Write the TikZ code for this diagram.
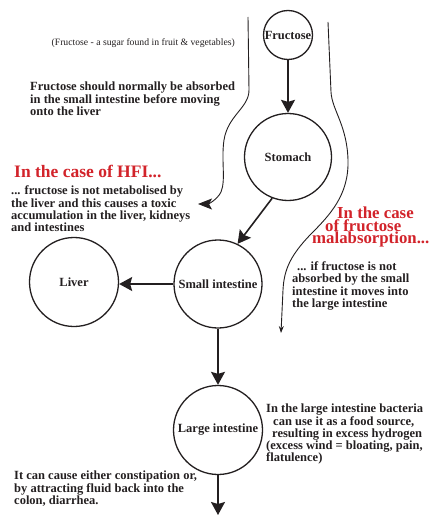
\documentclass[tikz,border=0pt]{standalone}
\usepackage{fontspec}
\setmainfont{Liberation Serif}
\usetikzlibrary{arrows.meta}
\definecolor{ink}{RGB}{35,31,32}
\definecolor{redhead}{RGB}{210,35,42}
\begin{document}
\begin{tikzpicture}[x=1pt,y=-1pt,
  organ/.style={circle,draw=ink,line width=1.3pt,inner sep=0pt,font=\fontsize{12.5}{12.5}\selectfont\bfseries,text=ink},
  flow/.style={draw=ink,line width=1.6pt,-{Stealth[length=13pt,width=14pt,inset=2pt]}},
  thinpath/.style={draw=ink,line width=0.9pt},
  body/.style={anchor=base west,inner sep=0pt,font=\fontsize{12.5}{12.5}\selectfont\bfseries,text=ink},
  headline/.style={anchor=base west,inner sep=0pt,font=\fontsize{17.5}{17.5}\selectfont\bfseries,text=redhead},
  redstack/.style={anchor=base west,inner sep=0pt,align=left,font=\fontsize{16.8}{12.5}\selectfont\bfseries,text=redhead},
  notetext/.style={anchor=base east,inner sep=0pt,font=\fontsize{9.7}{9.7}\selectfont,text=ink}]
\useasboundingbox (0,0) rectangle (434,516);

% organs
\node[organ,minimum size=49pt] (fructose) at (288,35) {Fructose};
\node[organ,minimum size=87pt] (stomach) at (288,157) {Stomach};
\node[organ,minimum size=88pt] (small) at (218,284) {Small intestine};
\node[organ,minimum size=89pt] (liver) at (74,282) {Liver};
\node[organ,minimum size=89pt] (large) at (218,430) {Large intestine};
\coordinate (out) at (218,515);

% main flow
\draw[flow] (fructose) -- (stomach);
\draw[flow] (stomach.249) -- (small.64);
\draw[flow] (small.west) -- (small.west -| liver.east);
\draw[flow] (small) -- (large);
\draw[flow] (large) -- (out);

% side paths
\coordinate (hfiStart) at (248,17);
\coordinate (hfiEnd) at (198,204);
\draw[thinpath,-{Stealth[length=14pt,width=11pt,inset=3pt]}] (hfiStart) -- (249,90)
  .. controls (249,108) and (228,115) .. (224,140)
  .. controls (221,160) and (226,180) .. (221,192)
  .. controls (217,200) and (208,204) .. (hfiEnd);
\coordinate (malStart) at (328,22);
\coordinate (malEnd) at (281,333);
\draw[thinpath,-{Stealth[length=7pt,width=5pt]}] (malStart) -- (331,92)
  .. controls (332,110) and (347,125) .. (348,160)
  .. controls (349,195) and (330,215) .. (310,235)
  .. controls (292,254) and (284,268) .. (283,290) -- (malEnd);

% texts
\node[notetext] (note) at (235,46) {(Fructose - a sugar found in fruit \& vegetables)};

\node[body] (a1) at (30,90.5) {Fructose should normally be absorbed};
\node[body] (a2) at (30,103) {in the small intestine before moving};
\node[body] (a3) at (30,115.5) {onto the liver};

\node[headline] (hfi) at (14,177) {In the case of HFI...};
\node[body] (h1) at (11,194.5) {... fructose is not metabolised by};
\node[body] (h2) at (11,207) {the liver and this causes a toxic};
\node[body] (h3) at (11,219) {accumulation in the liver, kidneys};
\node[body] (h4) at (11,231.5) {and intestines};

\node[redstack] (mal) at (312,243.5) {\kern25pt In the case\\\kern13pt of fructose\\malabsorption...};

\node[body] (r1) at (297,270) {... if fructose is not};
\node[body] (r2) at (292,282.5) {absorbed by the small};
\node[body] (r3) at (292,295) {intestine it moves into};
\node[body] (r4) at (292,307.5) {the large intestine};

\node[body] (b1) at (266,412.5) {In the large intestine bacteria};
\node[body] (b2) at (273,425) {can use it as a food source,};
\node[body] (b3) at (272,437) {resulting in excess hydrogen};
\node[body] (b4) at (266,449.5) {(excess wind = bloating, pain,};
\node[body] (b5) at (266,461.5) {flatulence)};

\node[body] (c1) at (14,479.5) {It can cause either constipation or,};
\node[body] (c2) at (14,492) {by attracting fluid back into the};
\node[body] (c3) at (14,504) {colon, diarrhea.};
\end{tikzpicture}
\end{document}
